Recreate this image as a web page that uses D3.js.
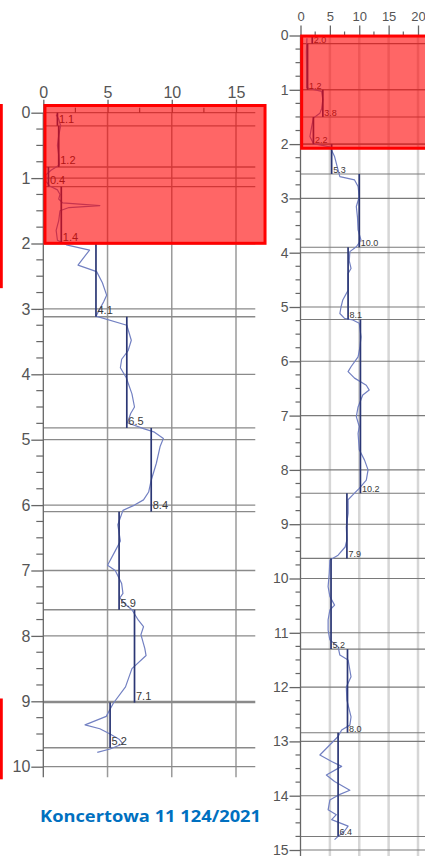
<!DOCTYPE html>
<html><head><meta charset="utf-8">
<script src="https://cdn.jsdelivr.net/npm/d3@7"></script>
<style>html,body{margin:0;padding:0;background:#fff;overflow:hidden}</style>
</head><body><svg id="c" width="425" height="856"></svg>
<script>
// ---------------- DATA ----------------
// Left profile (depth m, value)
const leftXTicks = [0, 5, 10, 15];
const leftXMinor = [2.5, 7.5, 12.5];
const leftYTicks = [0, 1, 2, 3, 4, 5, 6, 7, 8, 9, 10];
const leftTrace = [[0.03,1.0],[0.1,1.2],[0.2,1.35],[0.35,1.2],[0.5,1.1],[0.65,1.2],[0.8,1.25],[0.88,0.6],[0.95,0.2],[1.05,0.2],[1.12,0.5],[1.18,1.1],[1.25,1.3],[1.32,1.2],[1.38,1.5],[1.42,4.4],[1.45,2.0],[1.5,1.3],[1.65,1.2],[1.8,1.0],[1.95,1.1],[2.02,1.8],[2.1,3.6],[2.33,2.7],[2.43,4.15],[2.6,4.6],[2.79,4.93],[2.89,4.7],[3.0,4.4],[3.11,4.1],[3.25,6.5],[3.48,6.85],[3.64,6.6],[3.77,6.1],[3.9,6.0],[4.05,6.45],[4.3,6.9],[4.5,7.1],[4.6,6.8],[4.74,6.55],[4.83,7.8],[4.88,8.6],[4.98,9.35],[5.1,9.1],[5.36,8.8],[5.62,8.4],[5.8,8.2],[5.92,7.8],[6.0,7.1],[6.08,6.2],[6.3,5.8],[6.55,6.0],[6.7,5.6],[6.92,5.0],[7.0,5.6],[7.2,6.1],[7.35,6.2],[7.42,5.96],[7.52,6.4],[7.6,6.9],[7.76,7.4],[7.86,7.8],[7.98,7.6],[8.19,7.9],[8.3,8.0],[8.5,6.9],[8.78,6.4],[9.03,5.45],[9.23,4.9],[9.36,3.25],[9.42,4.4],[9.5,5.2],[9.58,5.9],[9.65,6.2],[9.73,5.2],[9.78,4.2]];
const leftLayerTop    = [0, 0.2, 0.83, 1.13, 2.0, 3.12, 4.82, 6.1, 7.6, 9.02];
const leftLayerBottom = [0.2, 0.83, 1.13, 2.0, 3.12, 4.82, 6.1, 7.6, 9.02, 9.71];
const leftLayerValue  = [1.1, 1.2, 0.4, 1.4, 4.1, 6.5, 8.4, 5.9, 7.1, 5.2];
const leftHighlights  = [[0.13, 17.26, -0.11, 1.997]];           // [x0,x1,d0,d1]
const leftEdgeMarks   = [[-10, -3.27, -0.11, 2.66], [-10, -3.27, 8.98, 10.17]];

// Right profile
const rightXTicks = [0, 5, 10, 15, 20];
const rightXMinor = [2.5, 7.5, 12.5, 17.5];
const rightYTicks = [0, 1, 2, 3, 4, 5, 6, 7, 8, 9, 10, 11, 12, 13, 14, 15];
const rightTrace = [[0.05,1.1],[0.3,1.0],[0.6,1.05],[0.96,1.05],[0.98,1.6],[1.03,3.6],[1.18,3.8],[1.35,3.6],[1.43,3.3],[1.52,2.2],[1.68,1.9],[1.86,1.6],[1.99,2.2],[2.05,5.0],[2.23,5.8],[2.48,6.4],[2.6,6.7],[2.66,9.2],[2.78,9.8],[2.97,10.0],[3.15,9.5],[3.35,9.7],[3.58,9.8],[3.77,10.3],[3.89,9.5],[3.98,8.4],[4.15,8.3],[4.29,8.6],[4.38,8.1],[4.69,8.1],[4.87,7.2],[5.0,6.9],[5.12,6.7],[5.21,7.5],[5.24,8.9],[5.3,10.0],[5.55,10.3],[5.75,10.1],[5.92,9.8],[6.1,8.6],[6.19,8.1],[6.31,9.2],[6.44,11.2],[6.53,11.7],[6.62,10.6],[6.84,9.8],[7.02,9.5],[7.2,10.0],[7.33,9.8],[7.63,10.0],[7.82,10.9],[8.0,11.5],[8.19,11.2],[8.34,10.0],[8.46,8.9],[8.55,8.1],[8.8,8.1],[9.05,7.8],[9.29,7.9],[9.42,7.6],[9.57,6.4],[9.66,5.0],[9.9,4.9],[10.15,4.7],[10.33,5.0],[10.49,5.8],[10.58,5.0],[10.76,4.7],[10.95,4.7],[11.13,5.0],[11.26,6.4],[11.41,6.7],[11.5,8.1],[11.81,8.6],[12.0,7.8],[12.24,7.9],[12.55,8.6],[12.7,8.4],[12.79,7.0],[12.91,6.4],[13.25,3.3],[13.37,5.3],[13.46,7.0],[13.62,4.4],[13.74,5.8],[13.9,8.4],[13.99,6.4],[14.08,5.0],[14.26,4.7],[14.35,6.1],[14.44,5.3],[14.5,6.7],[14.56,8.1],[14.65,7.5],[14.75,6.4],[14.81,5.8]];
const rightLayerTop    = [0, 0.15, 1.0, 1.5, 2.0, 2.55, 3.9, 5.23, 8.43, 9.63, 11.3, 12.84];
const rightLayerBottom = [0.15, 1.0, 1.5, 2.0, 2.55, 3.9, 5.23, 8.43, 9.63, 11.3, 12.84, 14.75];
const rightLayerValue  = [2.0, 1.2, 3.8, 2.2, 5.3, 10.0, 8.1, 10.2, 7.9, 5.2, 8.0, 6.4];
const rightHighlights  = [[0.2, 25, 0.01, 2.077]];
const rightEdgeMarks   = [];

const titleText = "Koncertowa 11 124/2021";

// ---------------- DRAW ----------------
const svg = d3.select('#c');
const fmt = d3.format('.1f');

function panel(o) {
  const g = svg.append('g');
  const x = d3.scaleLinear().domain([0, o.xTicks[o.xTicks.length-1]]).range(o.xRange);
  const y = d3.scaleLinear().domain([0, o.yTicks[o.yTicks.length-1]]).range(o.yRange);

  // vertical gridlines
  g.append('g').selectAll('line').data(o.xTicks.filter(d => d > 0)).join('line')
    .attr('x1', d => x(d)).attr('x2', d => x(d))
    .attr('y1', y(0)).attr('y2', y(o.yEnd))
    .attr('stroke', o.vGridColor).attr('stroke-width', o.vGridWidth);

  // horizontal gridlines
  g.append('g').selectAll('line').data(o.yTicks).join('line')
    .attr('x1', x(0)).attr('x2', x(o.xEnd))
    .attr('y1', d => y(d)).attr('y2', d => y(d))
    .attr('stroke', o.hGridColor).attr('stroke-width', o.hGridWidth);

  // layer boundary lines
  g.append('g').selectAll('line').data(o.layerBottom).join('line')
    .attr('x1', x(0)).attr('x2', x(o.xEnd))
    .attr('y1', d => y(d)).attr('y2', d => y(d))
    .attr('stroke', o.hGridColor).attr('stroke-width', o.hGridWidth);

  // axes
  const ax = g.append('g').attr('transform', `translate(0,${y(0)})`)
    .call(d3.axisTop(x).tickValues(o.xTicks).tickSize(o.xTickSize).tickSizeOuter(0).tickPadding(o.xPad));
  const ay = g.append('g').attr('transform', `translate(${x(0)},0)`)
    .call(d3.axisLeft(y).tickValues(o.yTicks).tickSize(o.yTickSize).tickSizeOuter(0).tickPadding(o.yPad));
  [ax, ay].forEach(a => {
    a.select('.domain').remove();
    a.selectAll('.tick line').attr('stroke', '#666').attr('stroke-width', 1.3);
    a.selectAll('.tick text').attr('fill', '#555')
      .attr('font-family', 'Liberation Sans, Arial, sans-serif');
  });
  ax.selectAll('.tick text').attr('font-size', o.xFont);
  ay.selectAll('.tick text').attr('font-size', o.yFont);

  // y axis line
  g.append('line').attr('x1', x(0)).attr('x2', x(0)).attr('y1', y(0)).attr('y2', y(o.yEnd))
    .attr('stroke', '#666').attr('stroke-width', 1.3);

  // minor ticks
  g.append('g').selectAll('line').data(o.xMinor).join('line')
    .attr('x1', d => x(d)).attr('x2', d => x(d))
    .attr('y1', y(0) - o.minorX).attr('y2', y(0))
    .attr('stroke', '#666').attr('stroke-width', 1.2);
  const yMinor = d3.range(0, o.yEnd, 0.25).filter(d => d % 1 !== 0);
  g.append('g').selectAll('line').data(yMinor).join('line')
    .attr('x1', x(0) - o.minorY).attr('x2', x(0))
    .attr('y1', d => y(d)).attr('y2', d => y(d))
    .attr('stroke', '#666').attr('stroke-width', 1.2);

  // raw trace
  g.append('path').datum(o.trace)
    .attr('d', d3.line().x(d => x(d[1])).y(d => y(d[0])))
    .attr('fill', 'none').attr('stroke', '#7280c2').attr('stroke-width', 1.2)
    .attr('stroke-linejoin', 'round');

  // step lines
  const layers = o.layerValue.map((v, i) => ({v, t: o.layerTop[i], b: o.layerBottom[i]}));
  g.append('g').selectAll('line').data(layers).join('line')
    .attr('x1', d => x(d.v)).attr('x2', d => x(d.v))
    .attr('y1', d => y(d.t)).attr('y2', d => y(d.b))
    .attr('stroke', '#2b3775').attr('stroke-width', 1.7);

  // value labels
  g.append('g').selectAll('text').data(layers).join('text')
    .attr('x', d => x(d.v) + 1.5).attr('y', d => y(d.b) - o.labelLift)
    .attr('font-family', 'Liberation Sans, Arial, sans-serif')
    .attr('font-size', o.labelFont).attr('fill', '#3a3a3a')
    .text(d => fmt(d.v));

  // red highlight boxes
  g.append('g').selectAll('rect').data(o.highlights).join('rect')
    .attr('x', d => x(d[0])).attr('y', d => y(d[2]))
    .attr('width', d => x(d[1]) - x(d[0])).attr('height', d => y(d[3]) - y(d[2]))
    .attr('fill', 'rgba(255,0,0,0.6)').attr('stroke', '#ff0000').attr('stroke-width', 3);
  g.append('g').selectAll('rect').data(o.edgeMarks).join('rect')
    .attr('x', d => x(d[0])).attr('y', d => y(d[2]))
    .attr('width', d => x(d[1]) - x(d[0])).attr('height', d => y(d[3]) - y(d[2]))
    .attr('fill', 'none').attr('stroke', '#ff0000').attr('stroke-width', 3);
}

panel({
  xTicks: leftXTicks, xMinor: leftXMinor, yTicks: leftYTicks,
  xRange: [43.3, 236], yRange: [112.7, 766.7], xEnd: 16.5, yEnd: 10.16,
  vGridColor: '#9a9a9a', vGridWidth: 1.5, hGridColor: '#8a8a8a', hGridWidth: 1.3,
  xTickSize: 13, xPad: 2, yTickSize: 12, yPad: 1, xFont: 16, yFont: 16,
  minorX: 5, minorY: 7, labelFont: 11, labelLift: 2.5,
  trace: leftTrace, layerTop: leftLayerTop, layerBottom: leftLayerBottom, layerValue: leftLayerValue,
  highlights: leftHighlights, edgeMarks: leftEdgeMarks
});

panel({
  xTicks: rightXTicks, xMinor: rightXMinor, yTicks: rightYTicks,
  xRange: [300.5, 418], yRange: [35.5, 850], xEnd: 22, yEnd: 15.3,
  vGridColor: '#d6d6d6', vGridWidth: 2.5, hGridColor: '#7a7a7a', hGridWidth: 1.1,
  xTickSize: 10, xPad: 5, yTickSize: 11, yPad: 1, xFont: 13, yFont: 14,
  minorX: 4, minorY: 5, labelFont: 9, labelLift: 1,
  trace: rightTrace, layerTop: rightLayerTop, layerBottom: rightLayerBottom, layerValue: rightLayerValue,
  highlights: rightHighlights, edgeMarks: rightEdgeMarks
});

svg.append('text').attr('x', 40).attr('y', 822)
  .attr('font-family', 'Open Sans, Liberation Sans, sans-serif').attr('font-weight', 'bold')
  .attr('font-size', 16.5).attr('fill', '#0070C0')
  .attr('textLength', 221).attr('lengthAdjust', 'spacingAndGlyphs')
  .text(titleText);
</script></body></html>
